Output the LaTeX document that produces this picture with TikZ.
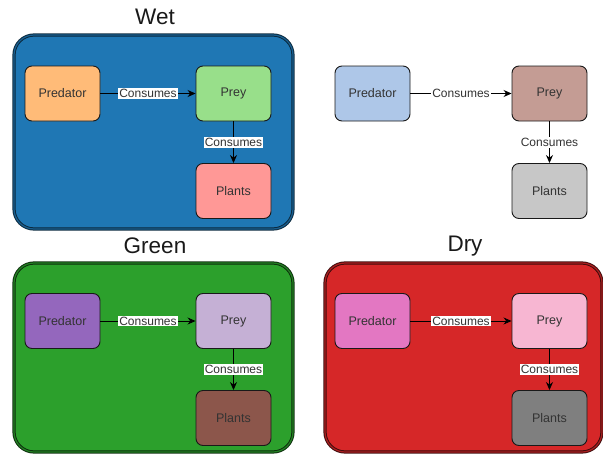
\documentclass[tikz,border=0pt]{standalone}
\usepackage{fontspec}
\setmainfont{Liberation Sans}
\usepackage{tikz}
\usetikzlibrary{arrows.meta,backgrounds,calc}

\definecolor{wetbox}{HTML}{1F77B4}
\definecolor{greenbox}{HTML}{2CA02C}
\definecolor{drybox}{HTML}{D62728}
\definecolor{wetpredc}{HTML}{FFBB78}
\definecolor{wetpreyc}{HTML}{98DF8A}
\definecolor{wetplantc}{HTML}{FF9896}
\definecolor{basepredc}{HTML}{AEC7E8}
\definecolor{basepreyc}{HTML}{C49C94}
\definecolor{baseplantc}{HTML}{C7C7C7}
\definecolor{greenpredc}{HTML}{9467BD}
\definecolor{greenpreyc}{HTML}{C5B0D5}
\definecolor{greenplantc}{HTML}{8C564B}
\definecolor{drypredc}{HTML}{E377C2}
\definecolor{drypreyc}{HTML}{F7B6D2}
\definecolor{dryplantc}{HTML}{7F7F7F}
\definecolor{inktext}{HTML}{333333}

\tikzset{
  panel/.style={rounded corners=20pt, line width=1pt, double distance=1.2pt},
  animal/.style={draw=black!90, line width=0.9pt, rounded corners=7pt,
    minimum width=75pt, minimum height=55pt, text=inktext,
    font=\fontsize{12.5}{15}\selectfont},
  eats/.style={-{Stealth[length=8pt,width=7pt]}, line width=0.9pt, black},
  eatslabel/.style={fill=white, inner sep=1pt, text=inktext,
    font=\fontsize{12}{14}\selectfont},
  paneltitle/.style={font=\fontsize{22.5}{26}\selectfont, text=black!90}
}

\begin{document}
\begin{tikzpicture}[x=1pt,y=-1pt]
\useasboundingbox (0,0) rectangle (603,453);

% Wet
\node[paneltitle] (wettitle) at (155,17) {Wet};
\draw[panel, fill=wetbox, draw=wetbox!35!black, double=wetbox!80!black] (14,35) rectangle (293,229);
\node[animal, fill=wetpredc] (wetpred) at (62.5,93.5) {Predator};
\node[animal, fill=wetpreyc] (wetprey) at (233.5,93.5) {Prey};
\node[animal, fill=wetplantc] (wetplants) at (233.5,191) {Plants};
\draw[eats] (wetpred) -- node[eatslabel] {Consumes} (wetprey);
\draw[eats] (wetprey) -- node[eatslabel] {Consumes} (wetplants);

% no environment
\node[animal, fill=basepredc] (basepred) at (372.5,93.5) {Predator};
\node[animal, fill=basepreyc] (baseprey) at (549.5,93.5) {Prey};
\node[animal, fill=baseplantc] (baseplants) at (549.5,191) {Plants};
\draw[eats] (basepred) -- node[eatslabel] {Consumes} (baseprey);
\draw[eats] (baseprey) -- node[eatslabel] {Consumes} (baseplants);

% Green
\node[paneltitle] (greentitle) at (155,246) {Green};
\draw[panel, fill=greenbox, draw=greenbox!30!black, double=greenbox!80!black] (14,263) rectangle (293,452);
\node[animal, fill=greenpredc] (greenpred) at (62.5,321) {Predator};
\node[animal, fill=greenpreyc] (greenprey) at (233.5,321) {Prey};
\node[animal, fill=greenplantc] (greenplants) at (233.5,418) {Plants};
\draw[eats] (greenpred) -- node[eatslabel] {Consumes} (greenprey);
\draw[eats] (greenprey) -- node[eatslabel] {Consumes} (greenplants);

% Dry
\node[paneltitle] (drytitle) at (465,246) {Dry};
\draw[panel, fill=drybox, draw=drybox!30!black, double=drybox!80!black] (325,263) rectangle (602,452);
\node[animal, fill=drypredc] (drypred) at (372.5,321) {Predator};
\node[animal, fill=drypreyc] (dryprey) at (549.5,321) {Prey};
\node[animal, fill=dryplantc] (dryplants) at (549.5,418) {Plants};
\draw[eats] (drypred) -- node[eatslabel] {Consumes} (dryprey);
\draw[eats] (dryprey) -- node[eatslabel] {Consumes} (dryplants);
\end{tikzpicture}
\end{document}
